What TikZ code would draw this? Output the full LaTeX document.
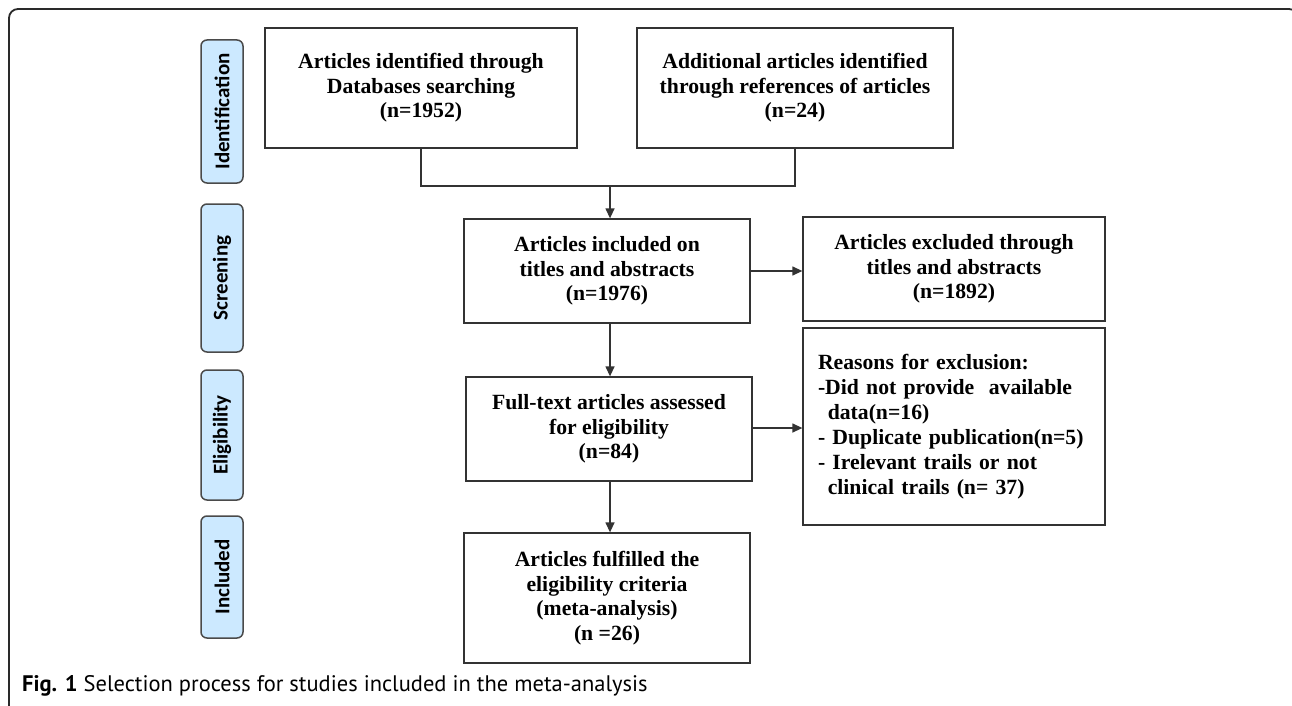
\documentclass[tikz,border=0pt]{standalone}
\usepackage{fontspec}
\setmainfont{Liberation Serif}
\newfontfamily\phasefont{Carlito}
\newfontfamily\capfont{PT Sans}
\usetikzlibrary{arrows.meta}
\definecolor{boxline}{HTML}{333333}
\definecolor{framecol}{HTML}{2A2A2A}
\definecolor{phasefill}{HTML}{CCE9FF}
\definecolor{phaseline}{HTML}{4A4A4A}
\begin{document}
\begin{tikzpicture}[x=1pt,y=-1pt,
  box/.style={draw=boxline, line width=1.3pt, fill=white, align=center, inner sep=2pt,
    font=\fontsize{21.7}{24.5}\selectfont\bfseries},
  phase/.style={draw=phaseline, line width=1.5pt, fill=phasefill, rounded corners=6pt,
    minimum height=42pt, inner sep=0pt, rotate=90,
    font=\phasefont\fontsize{21}{24}\selectfont\bfseries},
  arr/.style={draw=boxline, line width=1.3pt, -{Triangle[length=10pt,width=9pt]}},
  conn/.style={draw=boxline, line width=1.3pt},
  frame/.style={draw=framecol, line width=1.8pt, rounded corners=9pt}]
\useasboundingbox (0,0) rectangle (1292,706);
\clip (0,0) rectangle (1292,706);
\fill[white] (0,0) rectangle (1292,706);
% outer frame
\draw[frame] (9,760) -- (9,9) -- (1298,9) -- (1298,760);
% phase labels
\node[phase, minimum width=143pt] (idl) at (222,111.5) {Identification};
\node[phase, minimum width=148pt] (scl) at (222,278) {Screening};
\node[phase, minimum width=130pt] (ell) at (222,435) {Eligibility};
\node[phase, minimum width=122pt] (inl) at (222,577) {Included};
% boxes
\node[box, minimum width=312pt, minimum height=120pt] (A) at (421,88)
  {Articles identified through\\Databases searching\\(n=1952)};
\node[box, minimum width=316pt, minimum height=120pt] (B) at (795,88)
  {Additional articles identified\\through references of articles\\(n=24)};
\node[box, minimum width=286pt, minimum height=104pt] (C) at (607,271)
  {Articles included on\\titles and abstracts\\(n=1976)};
\node[box, minimum width=302pt, minimum height=104pt] (D) at (954,269)
  {Articles excluded through\\titles and abstracts\\(n=1892)};
\node[box, minimum width=286pt, minimum height=104pt] (F) at (609,429)
  {Full-text articles assessed\\for eligibility\\(n=84)};
\node[box, align=left, text width=272pt, inner xsep=15pt, minimum height=197pt,
  font=\fontsize{21.7}{25}\selectfont\bfseries] (E) at (954,426.5)
  {Reasons for exclusion:\\-Did not provide\ \ available\\\hspace*{0.45em}data(n=16)\\- Duplicate publication(n=5)\\- Irelevant trails or not\\\hspace*{0.45em}clinical trails (n= 37)};
\node[box, minimum width=286pt, minimum height=130pt] (G) at (607,598)
  {Articles fulfilled the\\eligibility criteria\\(meta-analysis)\\(n =26)};
% connectors
\coordinate (j) at (610,186);
\draw[conn] (A.south) |- (j) -| (B.south);
\draw[arr] (j) -- (C.north -| j);
\draw[arr] (C.south -| j) -- (F.north -| j);
\draw[arr] (F.south -| j) -- (G.north -| j);
\draw[arr] (C.east) -- (C.east -| D.west);
\draw[arr] (F.east |- 0,428) -- (E.west |- 0,428);
% caption
\node[anchor=base west, inner sep=0pt, font=\capfont\fontsize{22.5}{24}\selectfont] (cap) at (22,691)
  {\textbf{Fig. 1} Selection process for studies included in the meta-analysis};
\end{tikzpicture}
\end{document}
